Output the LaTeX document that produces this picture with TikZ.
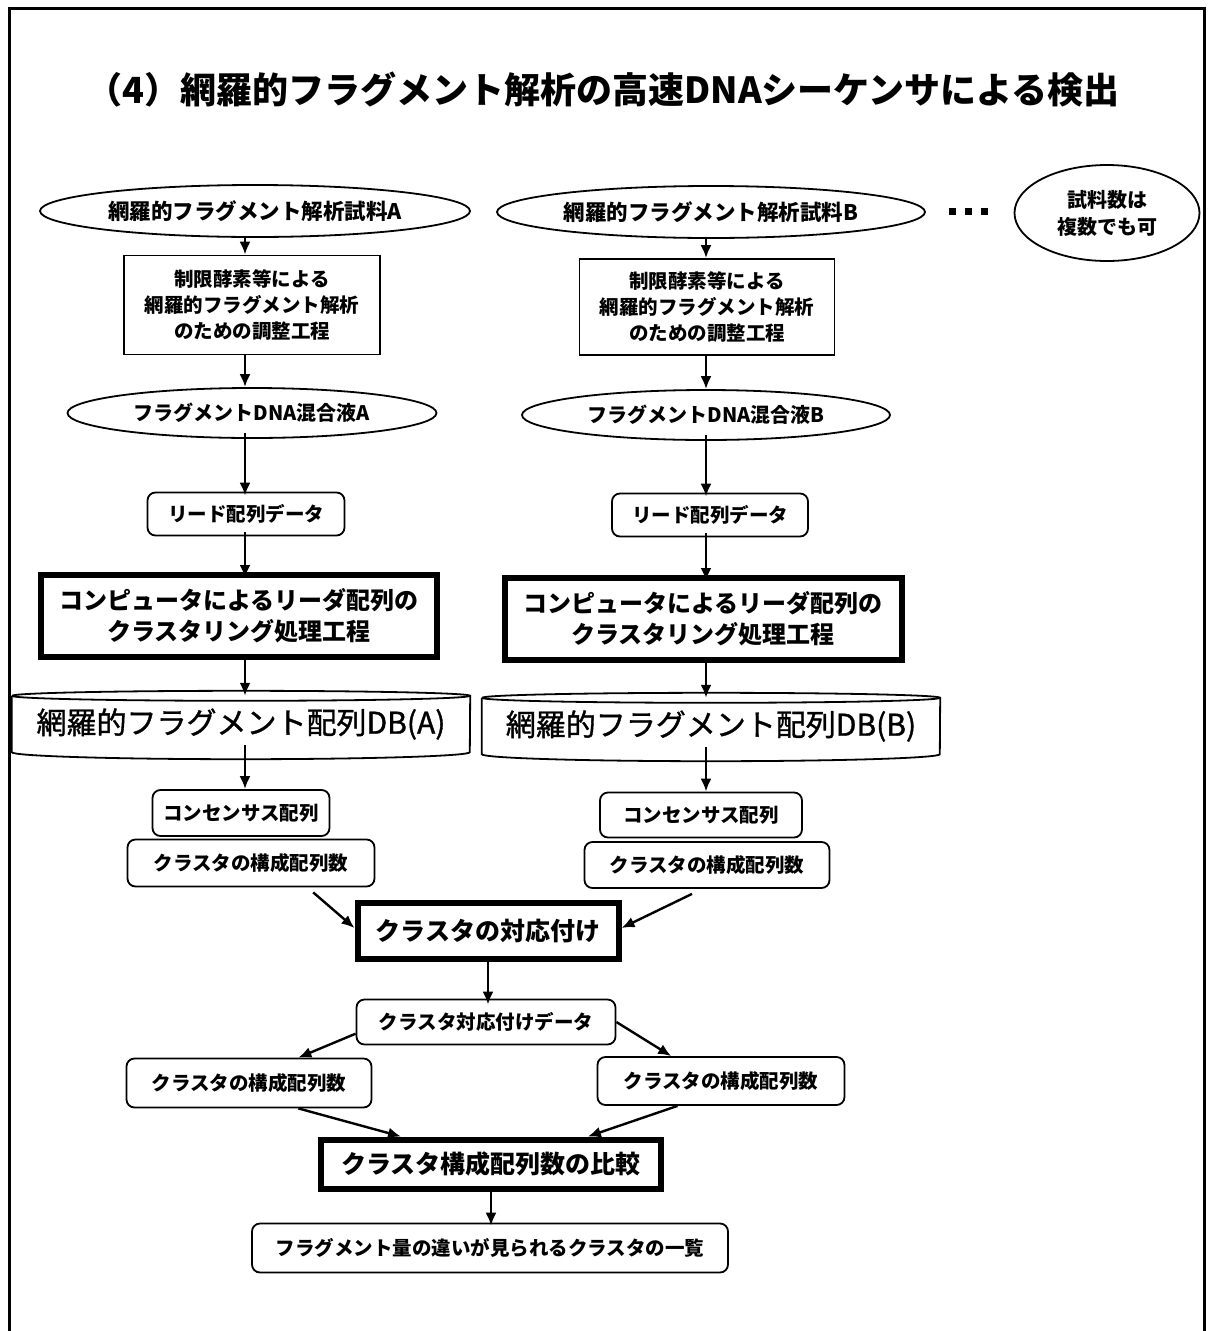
\documentclass[tikz,border=0pt]{standalone}
\usepackage{fontspec}
\setmainfont{Noto Sans CJK JP}
\newfontfamily\dbfont[FakeBold=1.2]{Noto Sans CJK JP}
\usetikzlibrary{shapes.geometric,arrows.meta,calc}
\tikzset{
  base/.style={align=center, inner sep=0pt, text=black},
  ell/.style={base, ellipse, draw, line width=1.8pt},
  rbox/.style={base, rectangle, draw, rounded corners=8pt, line width=1.8pt},
  sbox/.style={base, rectangle, draw, line width=1.8pt},
  tbox/.style={base, rectangle, draw, line width=6pt},
  dbbox/.style={base, rectangle, draw=none},
  arr/.style={-{Latex[length=13pt,width=11pt]}, line width=2.4pt},
  sqdot/.style={rectangle, fill=black, minimum size=7pt, inner sep=0pt},
  frame/.style={line width=3pt},
}
\newcommand\fz[2]{\fontsize{#1}{#2}\selectfont\bfseries}
\newcommand\fm[2]{\fontsize{#1}{#2}\dbfont\selectfont}
\begin{document}
\begin{tikzpicture}[x=1pt,y=-1pt]
\useasboundingbox (0,0) rectangle (1209,1331);
% frame
\draw[frame] (9,1331) -- (9,8) -- (1204,8) -- (1204,1331);
% title
\node[base, font=\fz{36}{40}] (title) at (603,90) {（4）網羅的フラグメント解析の高速DNAシーケンサによる検出};
% column guides
\coordinate (colA) at (245,0);
\coordinate (colB) at (706,0);
% top ellipses
\node[ell, minimum width=430pt, minimum height=52pt, font=\fz{21.5}{26}] (ellA) at (255,211) {網羅的フラグメント解析試料A};
\node[ell, minimum width=428pt, minimum height=52pt, font=\fz{21.5}{26}] (ellB) at (711,212) {網羅的フラグメント解析試料B};
\node[sqdot] (d1) at (952,211) {};
\node[sqdot] (d2) at (968,211) {};
\node[sqdot] (d3) at (984,211) {};
\node[ell, minimum width=185pt, minimum height=96pt, font=\fz{20}{27}] (note) at (1107,213) {試料数は\\複数でも可};
% preparation boxes
\node[sbox, minimum width=256pt, minimum height=99pt, font=\fz{19.5}{26}] (prepA) at (252,305) {制限酵素等による\\網羅的フラグメント解析\\のための調整工程};
\node[sbox, minimum width=255pt, minimum height=96pt, font=\fz{19.5}{26}] (prepB) at (707,307) {制限酵素等による\\網羅的フラグメント解析\\のための調整工程};
% mixtures
\node[ell, minimum width=369pt, minimum height=50pt, font=\fz{20}{24}] (mixA) at (252,413) {フラグメントDNA混合液A};
\node[ell, minimum width=368pt, minimum height=50pt, font=\fz{20}{24}] (mixB) at (706,415) {フラグメントDNA混合液B};
% read data
\node[rbox, minimum width=197pt, minimum height=43pt, font=\fz{19.5}{24}] (readA) at (246,514) {リード配列データ};
\node[rbox, minimum width=196pt, minimum height=43pt, font=\fz{19.5}{24}] (readB) at (710,515) {リード配列データ};
% clustering
\node[tbox, minimum width=396pt, minimum height=82pt, font=\fz{24}{31}] (clA) at (239,616) {コンピュータによるリーダ配列の\\クラスタリング処理工程};
\node[tbox, minimum width=397pt, minimum height=82pt, font=\fz{24}{31}] (clB) at (703,619) {コンピュータによるリーダ配列の\\クラスタリング処理工程};
% databases
\node[dbbox, minimum width=458pt, minimum height=56pt, font=\fm{30}{34}] (dbA) at (241,724) {網羅的フラグメント配列DB(A)};
\node[dbbox, minimum width=458pt, minimum height=56pt, font=\fm{30}{34}] (dbB) at (711,726) {網羅的フラグメント配列DB(B)};
\foreach \d in {dbA,dbB}{
  \draw[line width=1.8pt] (\d.north west) -- (\d.south west)
    arc[start angle=180, end angle=360, x radius=229pt, y radius=7pt]
    -- (\d.north east)
    arc[start angle=0, end angle=180, x radius=229pt, y radius=5pt];
  \draw[line width=1.8pt] (\d.north west) arc[start angle=180, end angle=360, x radius=229pt, y radius=5pt];
}
% consensus and counts
\node[rbox, minimum width=177pt, minimum height=46pt, font=\fz{19.5}{24}] (consA) at (241,813) {コンセンサス配列};
\node[rbox, minimum width=247pt, minimum height=47pt, font=\fz{19.5}{24}] (countA) at (251,863) {クラスタの構成配列数};
\node[rbox, minimum width=202pt, minimum height=45pt, font=\fz{19.5}{24}] (consB) at (701,815) {コンセンサス配列};
\node[rbox, minimum width=245pt, minimum height=46pt, font=\fz{19.5}{24}] (countB) at (707,865) {クラスタの構成配列数};
% matching
\node[tbox, minimum width=261pt, minimum height=56pt, font=\fz{25}{30}] (match) at (488,931) {クラスタの対応付け};
\node[rbox, minimum width=259pt, minimum height=45pt, font=\fz{19.5}{24}] (mdata) at (486,1022) {クラスタ対応付けデータ};
\node[rbox, minimum width=245pt, minimum height=49pt, font=\fz{19.5}{24}] (countL) at (249,1083) {クラスタの構成配列数};
\node[rbox, minimum width=247pt, minimum height=48pt, font=\fz{19.5}{24}] (countR) at (721,1081) {クラスタの構成配列数};
\node[tbox, minimum width=340pt, minimum height=49pt, font=\fz{25}{30}] (cmp) at (491,1164) {クラスタ構成配列数の比較};
\node[rbox, minimum width=476pt, minimum height=49pt, font=\fz{19.5}{24}] (list) at (490,1248) {フラグメント量の違いが見られるクラスタの一覧};
% vertical arrows column A
\draw[arr] (ellA.south -| colA) -- (prepA.north -| colA);
\draw[arr] (prepA.south -| colA) -- (mixA.north -| colA);
\draw[arr] ([yshift=6pt]mixA.south -| colA) -- ([yshift=-4pt]readA.north -| colA);
\draw[arr] ([yshift=4pt]readA.south -| colA) -- ([yshift=-6pt]clA.north -| colA);
\draw[arr] (clA.south -| colA) -- (dbA.north -| colA);
\draw[arr] ([yshift=7pt]dbA.south -| colA) -- (consA.north -| colA);
% vertical arrows column B
\draw[arr] (ellB.south -| colB) -- (prepB.north -| colB);
\draw[arr] (prepB.south -| colB) -- (mixB.north -| colB);
\draw[arr] ([yshift=6pt]mixB.south -| colB) -- ([yshift=-4pt]readB.north -| colB);
\draw[arr] ([yshift=4pt]readB.south -| colB) -- ([yshift=-6pt]clB.north -| colB);
\draw[arr] (clB.south -| colB) -- (dbB.north -| colB);
\draw[arr] ([yshift=7pt]dbB.south -| colB) -- (consB.north -| colB);
% to matching
\draw[arr] ($(countA.south)!0.5!(countA.south east)+(0,5)$) -- ([yshift=3pt]match.west);
\draw[arr] ($(countB.south)+(-15,5)$) -- ([yshift=3pt]match.east);
\draw[arr] ([yshift=5pt]match.south) -- ([yshift=-6pt]match.south |- mdata.north);
\draw[arr] ($(mdata.west)!0.5!(mdata.south west)$) -- ($(countL.north)!0.4!(countL.north east)$);
\draw[arr] (mdata.east) -- ($(countR.north)!0.4!(countR.north west)$);
\draw[arr] ($(countL.south)!0.4!(countL.south east)$) -- ($(cmp.north west)!0.24!(cmp.north east)$);
\draw[arr] ($(countR.south)!0.35!(countR.south west)$) -- ($(cmp.north west)!0.78!(cmp.north east)$);
\draw[arr] ([yshift=3pt]cmp.south) -- ([yshift=-3pt]cmp.south |- list.north);
\end{tikzpicture}
\end{document}
